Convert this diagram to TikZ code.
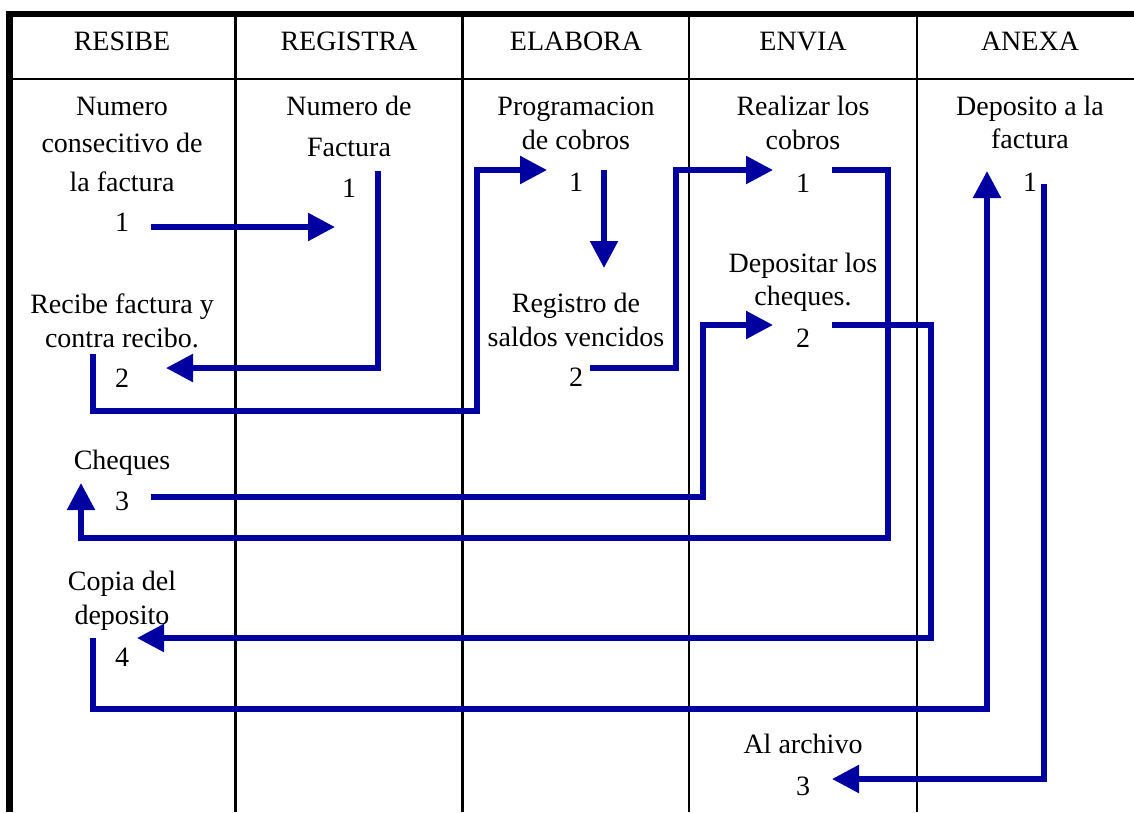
\documentclass[tikz,border=0pt]{standalone}
\usepackage{fontspec}
\setmainfont{Liberation Serif}
\usetikzlibrary{arrows.meta}
\definecolor{flowblue}{RGB}{0,0,160}
\begin{document}
\begin{tikzpicture}[x=1pt,y=-1pt,
  txt/.style={anchor=base,inner sep=0pt,font=\fontsize{28}{33}\selectfont},
  rule/.style={line width=2.5pt,black},
  frame/.style={line width=6.5pt,black},
  flow/.style={line width=5.5pt,flowblue,line join=miter},
  flowarrow/.style={flow,-{Triangle[length=27pt,width=27pt]}}]
\useasboundingbox (0,0) rectangle (1134,812);

% table frame and lanes
\draw[frame] (6,14) -- (1134,14);
\draw[frame] (9.5,11) -- (9.5,812);
\draw[rule] (13,79) -- (1134,79);
\foreach \x in {235.5,462.5,689,917}
  \draw[rule] (\x,14) -- (\x,812);

% lane headers
\node[txt] (hResibe)   at (122,50)  {RESIBE};
\node[txt] (hRegistra) at (349,50)  {REGISTRA};
\node[txt] (hElabora)  at (576,50)  {ELABORA};
\node[txt] (hEnvia)    at (803,50)  {ENVIA};
\node[txt] (hAnexa)    at (1030,50) {ANEXA};

% RESIBE lane
\node[txt] (a1l1) at (122,115)   {Numero};
\node[txt] (a1l2) at (122,152)   {consecitivo de};
\node[txt] (a1l3) at (122,191.5) {la factura};
\node[txt] (a1n)  at (122,231)   {1};
\node[txt] (a2l1) at (122,313)   {Recibe factura y};
\node[txt] (a2l2) at (122,347)   {contra recibo.};
\node[txt] (a2n)  at (122,387)   {2};
\node[txt] (a3l1) at (122,469)   {Cheques};
\node[txt] (a3n)  at (122,510)   {3};
\node[txt] (a4l1) at (122,590)   {Copia del};
\node[txt] (a4l2) at (122,624)   {deposito};
\node[txt] (a4n)  at (122,666)   {4};

% REGISTRA lane
\node[txt] (b1l1) at (349,115) {Numero de};
\node[txt] (b1l2) at (349,156) {Factura};
\node[txt] (b1n)  at (349,197) {1};

% ELABORA lane
\node[txt] (c1l1) at (576,115) {Programacion};
\node[txt] (c1l2) at (576,149) {de cobros};
\node[txt] (c1n)  at (576,191) {1};
\node[txt] (c2l1) at (576,312) {Registro de};
\node[txt] (c2l2) at (576,346) {saldos vencidos};
\node[txt] (c2n)  at (576,386) {2};

% ENVIA lane
\node[txt] (d1l1) at (803,115) {Realizar los};
\node[txt] (d1l2) at (803,149) {cobros};
\node[txt] (d1n)  at (803,192) {1};
\node[txt] (d2l1) at (803,272) {Depositar los};
\node[txt] (d2l2) at (803,305) {cheques.};
\node[txt] (d2n)  at (803,347) {2};
\node[txt] (d3l1) at (803,753) {Al archivo};
\node[txt] (d3n)  at (803,795) {3};

% ANEXA lane
\node[txt] (e1l1) at (1030,115) {Deposito a la};
\node[txt] (e1l2) at (1030,148) {factura};
\node[txt] (e1n)  at (1030,191) {1};

% connector end points and bends
\coordinate (k1s) at (151,227);  \coordinate (k1e) at (335,227);
\coordinate (k2s) at (378,171);  \coordinate (k2e) at (166,368);
\coordinate (k3s) at (93,354);   \coordinate (k3a) at (477,411);  \coordinate (k3e) at (547,170);
\coordinate (k4s) at (604,170);  \coordinate (k4e) at (604,268);
\coordinate (k5s) at (590,368);  \coordinate (k5a) at (676,170);  \coordinate (k5e) at (773,170);
\coordinate (k6s) at (832,170);  \coordinate (k6a) at (888,538);  \coordinate (k6e) at (81,483);
\coordinate (k7s) at (151,497);  \coordinate (k7a) at (703,325);  \coordinate (k7e) at (773,325);
\coordinate (k8s) at (832,325);  \coordinate (k8a) at (931,638);  \coordinate (k8e) at (137,638);
\coordinate (k9s) at (93,638);   \coordinate (k9a) at (987,709);  \coordinate (k9e) at (987,171);
\coordinate (k10s) at (1044,184); \coordinate (k10e) at (832,779);

% document flow
\draw[flowarrow] (k1s) -- (k1e);
\draw[flowarrow] (k2s) |- (k2e);
\draw[flowarrow] (k3s) |- (k3a) |- (k3e);
\draw[flowarrow] (k4s) -- (k4e);
\draw[flowarrow] (k5s) -| (k5a) -- (k5e);
\draw[flowarrow] (k6s) -| (k6a) -| (k6e);
\draw[flowarrow] (k7s) -| (k7a) -- (k7e);
\draw[flowarrow] (k8s) -| (k8a) -- (k8e);
\draw[flowarrow] (k9s) |- (k9a) -- (k9e);
\draw[flowarrow] (k10s) |- (k10e);
\end{tikzpicture}
\end{document}
